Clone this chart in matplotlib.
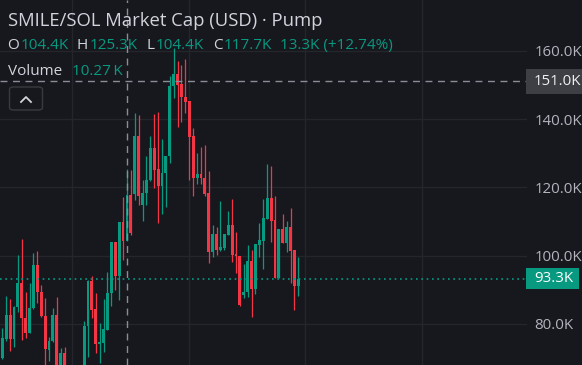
import matplotlib
matplotlib.use('Agg')
import matplotlib.pyplot as plt
from matplotlib import transforms
from matplotlib.patches import Rectangle, FancyBboxPatch
from matplotlib.lines import Line2D

# -------------------------
# Data (market cap, thousands USD)
# -------------------------
opens = [69.95, 75.51, 82.63, 75.51, 84.88, 92.08, 81.84, 77.45, 84.68, 97.12,
         89.36, 82.33, 72.38, 74.93, 82.72, 65.06, 71.59, 66.0, 62.0, 64.0,
         61.0, 66.0, 79.41, 92.58, 84.24, 74.05, 74.43, 78.24, 88.98, 103.91,
         94.04, 109.94, 104.4, 117.7, 117.96, 135.03, 114.83, 118.43, 122.15, 131.43,
         125.28, 120.39, 124.28, 129.17, 149.67, 153.18, 150.25, 146.53, 145.27, 135.03,
         122.82, 123.82, 122.82, 118.25, 100.98, 106.25, 101.65, 102.15, 106.05, 108.97,
         100.48, 99.9, 88.48, 89.45, 98.43, 90.15, 103.12, 104.29, 110.73, 116.79,
         110.44, 93.55, 107.72, 103.79, 108.33, 101.65, 91.12]
highs = [78.73, 88.28, 87.22, 85.26, 100.19, 104.79, 89.45, 91.91, 100.78, 101.22,
         91.41, 87.46, 76.28, 84.53, 87.99, 73.06, 73.35, 67.0, 66.0, 65.5,
         67.0, 80.96, 92.9, 94.04, 88.98, 80.2, 87.31, 95.3, 104.0, 104.0,
         109.94, 117.26, 125.3, 125.07, 141.67, 141.18, 122.15, 129.17, 135.03, 141.38,
         142.14, 134.06, 129.17, 152.59, 160.7, 156.98, 155.8, 157.48, 145.27, 137.28,
         129.96, 131.9, 132.39, 124.78, 108.97, 108.48, 116.0, 106.25, 113.07, 116.5,
         107.01, 99.9, 97.47, 103.12, 101.65, 103.32, 109.47, 116.5, 126.83, 126.25,
         117.46, 107.72, 112.19, 110.14, 113.86, 101.65, 99.7]
lows = [69.8, 75.02, 72.09, 73.26, 83.59, 75.31, 76.04, 77.36, 84.38, 86.05,
        82.04, 67.58, 69.16, 74.73, 64.0, 63.0, 64.0, 60.0, 59.0, 58.0,
        60.0, 65.0, 70.42, 81.66, 71.42, 68.66, 71.89, 78.24, 85.26, 89.94,
        87.02, 98.73, 104.4, 106.05, 116.3, 114.83, 110.23, 114.83, 121.86, 119.72,
        109.65, 112.11, 114.33, 127.03, 146.07, 137.75, 139.21, 141.67, 122.15, 117.46,
        120.89, 120.89, 117.46, 97.76, 99.52, 100.19, 101.5, 101.65, 106.05, 98.23,
        95.01, 85.18, 87.51, 87.98, 82.13, 88.77, 99.52, 96.0, 110.73, 104.09,
        93.55, 93.46, 103.7, 101.16, 91.91, 84.09, 88.19]
closes = [75.98, 82.63, 75.51, 85.06, 92.08, 81.66, 77.45, 84.76, 97.12, 89.36,
          82.25, 72.59, 75.02, 82.63, 65.94, 71.59, 66.0, 62.0, 64.0, 61.0,
          65.0, 79.41, 92.58, 84.09, 74.05, 74.81, 78.44, 89.16, 103.91, 94.19,
          109.94, 104.4, 117.7, 106.72, 135.03, 117.46, 118.43, 122.15, 131.43, 125.22,
          120.39, 124.28, 129.17, 149.67, 153.18, 149.96, 146.53, 145.07, 134.65, 122.73,
          123.82, 122.64, 117.96, 100.98, 106.25, 101.65, 102.44, 106.25, 108.97, 100.19,
          99.9, 85.56, 89.45, 98.43, 90.15, 103.32, 104.58, 110.93, 116.79, 110.14,
          93.55, 107.72, 103.79, 108.33, 101.36, 91.12, 93.3]

price_ticks = [80, 100, 120, 140, 160]
price_tick_labels = ['80.0K', '100.0K', '120.0K', '140.0K', '160.0K']
time_grid = [17.9, 47.9, 77.8, 107.8]

title = 'SMILE/SOL Market Cap (USD) \u00b7 Pump'
ohlc_names = ['O', 'H', 'L', 'C']
ohlc_values = ['104.4K', '125.3K', '104.4K', '117.7K']
change_text = '13.3K (+12.74%)'
volume_value = '10.27\u2009K'
crosshair_idx = 32
crosshair_price = 151.0
crosshair_label = '151.0K'
last_price = 93.3
last_label = '93.3K'

# -------------------------
# Style
# -------------------------
W, H, DPI = 582, 365, 100
BG = '#17181e'
GRID = '#25262b'
UP = '#089981'
DOWN = '#f23645'
TXT = '#d1d4dc'
AXTXT = '#b2b5be'
AXSIZE = 10.8
plt.rcParams['font.family'] = ['Open Sans', 'DejaVu Sans']

fig = plt.figure(figsize=(W / DPI, H / DPI), dpi=DPI)
fig.patch.set_facecolor(BG)
ax = fig.add_axes([0, 0, 527 / W, 1])
ax.set_facecolor(BG)
ax.set_xlim(-0.59, 134.7)
ax.set_ylim(67.99, 174.84)
for s in ax.spines.values():
    s.set_visible(False)

ax.set_xticks(time_grid)
ax.set_xticklabels([])
ax.tick_params(axis='x', length=0)
ax.yaxis.tick_right()
ax.set_yticks(price_ticks)
ax.set_yticklabels(price_tick_labels)
ax.tick_params(axis='y', length=0, pad=5.5, labelcolor=AXTXT, labelsize=AXSIZE)
ax.grid(True, color=GRID, linewidth=1)
ax.set_axisbelow(True)

# candles
xs = list(range(len(opens)))
colors = [UP if c >= o else DOWN for o, c in zip(opens, closes)]
ax.vlines(xs, lows, highs, colors=colors, linewidth=0.9, zorder=2)
bottoms = [min(o, c) for o, c in zip(opens, closes)]
heights = [max(abs(c - o), 0.3) for o, c in zip(opens, closes)]
ax.bar(xs, heights, bottom=bottoms, width=0.74, color=colors, linewidth=0, zorder=3)

# crosshair and last price line
ax.axhline(crosshair_price, color='#8a8d95', linewidth=1, dashes=(5, 4), zorder=4)
ax.axvline(crosshair_idx, color='#8a8d95', linewidth=1, dashes=(5, 4), zorder=4)
ax.axhline(last_price, color=UP, linewidth=1.2, dashes=(1, 2.2), zorder=4)

# price labels on the axis
blend = transforms.blended_transform_factory(fig.transFigure, ax.transData)
k_per_px = (174.84 - 67.99) / H
ax.add_artist(Rectangle((526 / W, crosshair_price - 12.5 * k_per_px), 56 / W, 25 * k_per_px,
                        transform=blend, facecolor='#3e3f45', edgecolor='none',
                        clip_on=False, zorder=5))
ax.text(534 / W, crosshair_price, crosshair_label, transform=blend, color='#f0f0f0',
        fontsize=AXSIZE, va='center', ha='left', clip_on=False, zorder=6)
ax.add_artist(Rectangle((526 / W, last_price - 10.5 * k_per_px), 53 / W, 21 * k_per_px,
                        transform=blend, facecolor=UP, edgecolor='none',
                        clip_on=False, zorder=5))
ax.text(534 / W, last_price, last_label, transform=blend, color='white',
        fontsize=AXSIZE, va='center', ha='left', clip_on=False, zorder=6)

# -------------------------
# Header legend
# -------------------------
renderer = fig.canvas.get_renderer()


def text_run(x, y, parts, size):
    cur = x
    for s, c, gap in parts:
        t = fig.text(cur / W, 1 - y / H, s, color=c, fontsize=size,
                     va='baseline', ha='left')
        cur += t.get_window_extent(renderer).width + gap


text_run(8, 26, [(title, TXT, 0)], 13.3)
parts = []
for n, v in zip(ohlc_names, ohlc_values):
    parts.append((n, TXT, 1.5))
    parts.append((v, UP, 8.5))
parts.append((change_text, UP, 0))
text_run(7, 48.7, parts, 11)
text_run(8, 75, [('Volume', TXT, 9.5), (volume_value, UP, 0)], 11)

# collapse button
fig.patches.append(FancyBboxPatch((9.5 / W, 1 - 110 / H), 33 / W, 23 / H,
                                  boxstyle='round,pad=0,rounding_size=0.007',
                                  transform=fig.transFigure, facecolor=BG,
                                  edgecolor='#3a3b41', linewidth=1))
fig.lines.append(Line2D([21 / W, 26 / W, 31 / W], [1 - 102 / H, 1 - 97 / H, 1 - 102 / H],
                        transform=fig.transFigure, color=TXT, linewidth=1.3))

fig.savefig('out.png', dpi=DPI, facecolor=BG)
